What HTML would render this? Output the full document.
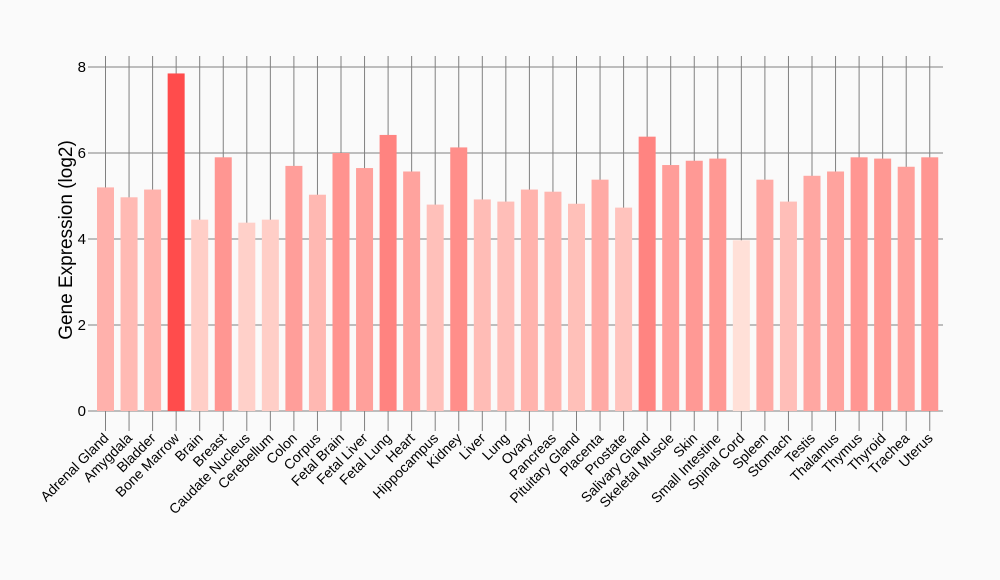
<!DOCTYPE html><html><head><style>body{margin:0;background:#fafafa}svg{display:block;font-family:"Liberation Sans",sans-serif}</style></head><body>
<svg id="s" width="1000" height="580" xmlns="http://www.w3.org/2000/svg"></svg>
<script>
const names=["Adrenal Gland","Amygdala","Bladder","Bone Marrow","Brain","Breast","Caudate Nucleus","Cerebellum","Colon","Corpus","Fetal Brain","Fetal Liver","Fetal Lung","Heart","Hippocampus","Kidney","Liver","Lung","Ovary","Pancreas","Pituitary Gland","Placenta","Prostate","Salivary Gland","Skeletal Muscle","Skin","Small Intestine","Spinal Cord","Spleen","Stomach","Testis","Thalamus","Thymus","Thyroid","Trachea","Uterus"];
const v=[5.2,4.97,5.15,7.85,4.45,5.9,4.38,4.45,5.7,5.03,6.0,5.65,6.42,5.57,4.8,6.13,4.92,4.87,5.15,5.1,4.82,5.38,4.73,6.38,5.72,5.82,5.87,3.97,5.38,4.87,5.47,5.57,5.9,5.87,5.68,5.9];
let h='';const y0=411,k=43,x0=105.5,dx=23.55;
h+='<rect width="1000" height="580" fill="#fafafa"/>';
for(let i=0;i<36;i++){const x=x0+i*dx;h+=`<line x1="${x}" y1="56" x2="${x}" y2="431" stroke="#808080"/>`;}
for(let t=0;t<=8;t+=2){const y=y0-t*k;h+=`<line x1="88" y1="${y}" x2="943" y2="${y}" stroke="#808080"/><text x="86" y="${y+5}" font-size="15" text-anchor="end">${t}</text>`;}
for(let i=0;i<36;i++){const x=x0+i*dx;const f=Math.max(0,Math.min(1,(v[i]-3.97)/(7.85-3.97)));const g=Math.round(224-f*(224-76)),b=Math.round(216-f*(216-76));
h+=`<rect x="${x-8.5}" y="${y0-v[i]*k}" width="17" height="${v[i]*k}" fill="rgb(255,${g},${b})"/>`;
h+=`<text transform="translate(${x+4},${439}) rotate(-45)" font-size="14" text-anchor="end">${names[i]}</text>`;}
h+='<text transform="translate(72,240) rotate(-90)" font-size="19" text-anchor="middle">Gene Expression (log2)</text>';
document.getElementById('s').innerHTML=h;
</script></body></html>
